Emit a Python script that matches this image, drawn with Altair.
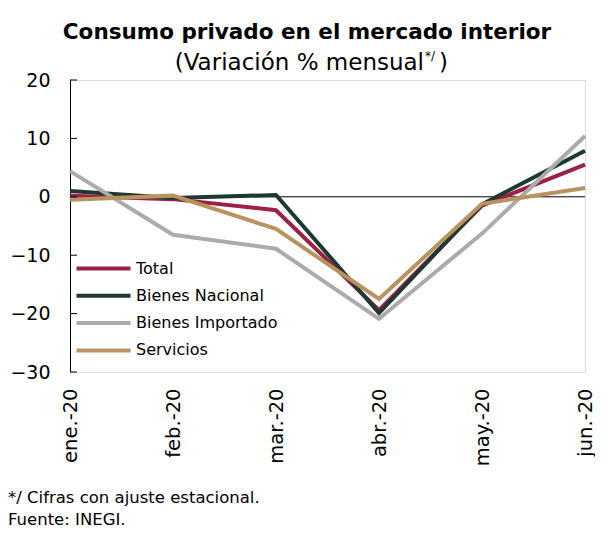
import altair as alt
import pandas as pd

months = ["ene.-20", "feb.-20", "mar.-20", "abr.-20", "may.-20", "jun.-20"]
series = ["Total", "Bienes Nacional", "Bienes Importado", "Servicios"]
total = [0.2, -0.4, -2.3, -19.4, -1.5, 5.5]
nacional = [1.0, -0.2, 0.3, -19.9, -1.3, 7.9]
importado = [4.4, -6.5, -8.9, -20.9, -6.3, 10.4]
servicios = [-0.5, 0.2, -5.5, -17.5, -1.2, 1.5]
colors = ["#9B2247", "#1E3A30", "#ABABAB", "#B8925F"]
y_ticks = [-30, -20, -10, 0, 10, 20]
title_txt = "Consumo privado en el mercado interior"
subtitle_txt = "(Variación % mensual"
sup_txt = "*/"
close_txt = ")"
note1 = "*/ Cifras con ajuste estacional."
note2 = "Fuente: INEGI."

rows = []
for i, (name, vals) in enumerate(zip(series, [total, nacional, importado, servicios])):
    for m, v in zip(months, vals):
        rows.append({"mes": m, "serie": name, "valor": v, "idx": i})
df = pd.DataFrame(rows)

FONT = "DejaVu Sans"
W, H = 515, 292

y_scale = alt.Scale(domain=[-30, 20], nice=False, zero=False)
y_axis = alt.Axis(title=None, values=y_ticks, labelFontSize=19,
                  labelPadding=20, ticks=False, grid=False,
                  domainColor="black", domainWidth=1,
                  labelColor="black", labelFont=FONT)
x_enc = alt.X("mes:N", sort=months, scale=alt.Scale(type="point", padding=0),
              axis=alt.Axis(title=None, labelAngle=270, labelAlign="right",
                            labelBaseline="middle", labelFontSize=19.5,
                            labelPadding=16, domain=False, ticks=False,
                            labelColor="black", labelFont=FONT))

zero = alt.Chart(pd.DataFrame({"v": [0]})).mark_rule(color="black", strokeWidth=1).encode(
    y=alt.Y("v:Q", scale=y_scale, axis=y_axis)
)

lines = alt.Chart(df).mark_line(strokeWidth=4, strokeCap="butt").encode(
    x=x_enc,
    y=alt.Y("valor:Q", scale=y_scale, axis=y_axis),
    color=alt.Color("serie:N", sort=series,
                    scale=alt.Scale(domain=series, range=colors),
                    legend=alt.Legend(title=None, orient="none", legendX=18, legendY=173,
                                      symbolType="M-2,0H2", symbolSize=729,
                                      symbolStrokeWidth=4, labelFontSize=16,
                                      labelFont=FONT, labelColor="black",
                                      labelOffset=17, rowPadding=3.3, padding=0)),
    order=alt.Order("idx:Q"),
)

ticks = alt.Chart(pd.DataFrame({"t": y_ticks})).mark_rule(color="black", strokeWidth=1).encode(
    y=alt.Y("t:Q", scale=y_scale, axis=y_axis), x=alt.value(0), x2=alt.value(7)
)

def label(txt, xpix, ypix, size, align="left", weight="normal"):
    return alt.Chart(pd.DataFrame({"txt": [txt]})).mark_text(
        align=align, baseline="middle", fontSize=size, font=FONT, color="black",
        fontWeight=weight
    ).encode(text="txt:N", x=alt.value(xpix), y=alt.value(ypix))

texts = [
    label(title_txt, 237, -47, 21.5, align="center", weight="bold"),
    label(subtitle_txt, 354, -17, 23, align="right"),
    label(sup_txt, 355, -24, 12),
    label(close_txt, 369, -17, 23),
    label(note1, -62, 418, 16.5),
    label(note2, -62, 440, 16.5),
]

chart = alt.layer(zero, lines, ticks, *texts).properties(
    width=W, height=H,
    padding={"left": 0, "top": 14, "right": 0, "bottom": 0},
).configure_view(stroke=None).configure(background="white")

chart.save("out.html", embed_options={"renderer": "svg", "actions": False})
